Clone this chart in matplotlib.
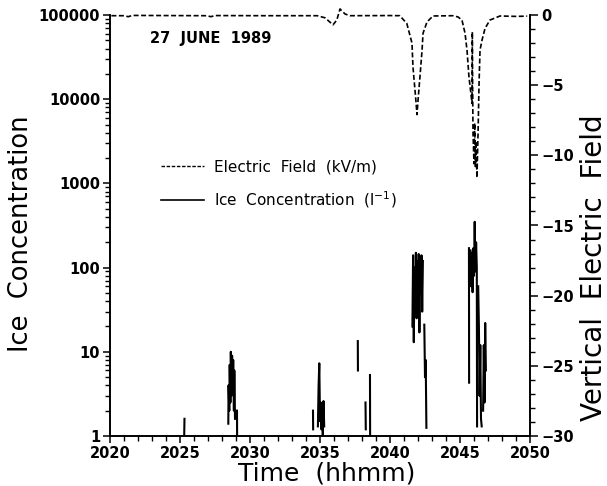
import numpy as np
import matplotlib.pyplot as plt
from matplotlib.lines import Line2D
from matplotlib.ticker import MultipleLocator, LogLocator, NullFormatter

plt.rcParams['font.family'] = 'DejaVu Sans'

nan = np.nan

# ice concentration (l^-1), separate bursts split by NaN
ice_time = [2025.30, 2025.32, nan,
            2028.45, 2028.47, 2028.52, 2028.55, 2028.60, 2028.63, 2028.68, 2028.72,
            2028.77, 2028.80, 2028.85, 2028.88, 2028.93, nan,
            2029.07, 2029.08, nan,
            2034.50, 2034.51, nan,
            2034.85, 2034.90, 2034.95, 2035.00, 2035.05, 2035.10, 2035.15, 2035.20,
            2035.25, 2035.30, nan,
            2037.70, 2037.71, nan,
            2038.25, 2038.27, nan,
            2038.57, 2038.58, nan,
            2041.60, 2041.65, 2041.70, 2041.75, 2041.80, 2041.85, 2041.90, 2041.95,
            2042.00, 2042.05, 2042.10, 2042.15, 2042.20, 2042.25, 2042.30, 2042.35, nan,
            2042.45, 2042.50, 2042.55, 2042.60, nan,
            2045.64, 2045.65, nan,
            2045.75, 2045.80, 2045.85, 2045.90, 2045.95, 2046.00, 2046.05, 2046.10,
            2046.15, 2046.20, 2046.22, nan,
            2046.30, 2046.35, 2046.40, 2046.45, 2046.50, 2046.55, nan,
            2046.65, 2046.70, 2046.75, 2046.80, 2046.85]
ice_conc = [1.0, 1.6, nan,
            1.4, 4.0, 2.0, 7.0, 2.5, 10.0, 3.0, 9.0,
            4.0, 8.0, 2.0, 6.0, 1.6, nan,
            2.0, 1.0, nan,
            2.0, 1.2, nan,
            1.3, 4.0, 7.3, 1.5, 2.5, 1.2, 2.3, 1.0,
            2.6, 1.3, nan,
            13.4, 6.0, nan,
            2.5, 1.2, nan,
            5.3, 1.0, nan,
            20, 140, 13, 100, 40, 150, 25, 120,
            60, 145, 17, 130, 50, 140, 30, 120, nan,
            21, 5, 8, 1.25, nan,
            170, 4.3, nan,
            160, 60, 150, 51, 170, 80, 350, 90,
            200, 100, 1.3, nan,
            60, 20, 3, 12, 1.6, 1.3, nan,
            2.0, 12, 2.5, 22, 6]

# vertical electric field (kV/m)
ef_time = [2020.1, 2021.0, 2021.3, 2021.6, 2024.0, 2026.9, 2027.2, 2027.5, 2031.0,
           2034.8, 2035.36, 2035.93, 2036.2, 2036.43, 2036.79, 2037.14, 2040.0,
           2040.7, 2041.2, 2041.57, 2041.64, 2041.79, 2041.93, 2042.0, 2042.14,
           2042.29, 2042.36, 2042.64, 2043.07, 2044.5, 2044.86, 2045.14, 2045.36,
           2045.5, 2045.64, 2045.86, 2045.88, 2045.9, 2045.93, 2046.0, 2046.05,
           2046.1, 2046.15, 2046.21, 2046.29, 2046.36, 2046.43, 2046.57, 2046.79,
           2047.14, 2047.86, 2049.0, 2049.8]
ef_value = [-0.05, -0.05, -0.12, -0.03, -0.04, -0.05, -0.12, -0.04, -0.05,
            -0.05, -0.2, -0.7, -0.36, 0.43, 0.07, -0.05, -0.04,
            -0.05, -0.6, -2.0, -3.7, -5.4, -7.1, -6.1, -4.4,
            -2.5, -1.3, -0.5, -0.07, -0.05, -0.14, -0.36, -1.3,
            -2.5, -4.4, -6.3, -1.2, -4.8, -8.4, -10.6, -7.7,
            -10.8, -9.0, -11.6, -8.4, -4.9, -2.5, -1.8, -0.95,
            -0.36, -0.07, -0.1, -0.08]

ice_ticks = [1, 10, 100, 1000, 10000, 100000]
ice_ticklabels = ['1', '10', '100', '1000', '10000', '100000']
ef_ticks = [0, -5, -10, -15, -20, -25, -30]
ef_ticklabels = ['0', '\u22125', '\u221210', '\u221215', '\u221220', '\u221225', '\u221230']

W, H = 607, 486
fig = plt.figure(figsize=(W / 100, H / 100), dpi=100)
ax = fig.add_axes([110 / W, 50 / H, 420 / W, 421 / H])

ax.plot(ice_time, ice_conc, color='k', lw=1.5)
ax.set_yscale('log')
ax.set_ylim(1, 1e5)
ax.set_xlim(2020, 2050)
ax.set_yticks(ice_ticks)
ax.set_yticklabels(ice_ticklabels)
ax.yaxis.set_minor_locator(LogLocator(base=10, subs=np.arange(2, 10)))
ax.yaxis.set_minor_formatter(NullFormatter())
ax.xaxis.set_major_locator(MultipleLocator(5))
ax.xaxis.set_minor_locator(MultipleLocator(1))

ax2 = ax.twinx()
ax2.plot(ef_time, ef_value, color='k', lw=1.2, dashes=(3, 1.5), clip_on=False)
ax2.set_ylim(-30, 0)
ax2.set_yticks(ef_ticks)
ax2.set_yticklabels(ef_ticklabels)
ax2.yaxis.set_minor_locator(MultipleLocator(1))

for a in (ax, ax2):
    a.spines['top'].set_visible(False)
    for s in ('left', 'right', 'bottom'):
        a.spines[s].set_linewidth(1.2)
    a.tick_params(which='major', direction='out', length=5, width=1.1,
                  labelsize=10.5, pad=2)
    a.tick_params(which='minor', direction='out', length=3.5, width=1.0)
    for lab in a.get_xticklabels() + a.get_yticklabels():
        lab.set_fontweight('bold')

ax2.tick_params(axis='y', which='major', length=6)

h_ef = Line2D([], [], color='k', lw=1.0, dashes=(2.5, 1.2))
h_ice = Line2D([], [], color='k', lw=1.2)
ax2.legend([h_ef, h_ice], ['Electric  Field  (kV/m)', 'Ice  Concentration  (l$^{-1}$)'],
           loc='upper left', bbox_to_anchor=(161 / W, 1 - 159 / H),
           bbox_transform=fig.transFigure, frameon=False, fontsize=11,
           handlelength=2.8, handletextpad=0.65, labelspacing=1.0,
           borderpad=0, borderaxespad=0)

fig.text(150 / W, 1 - 39 / H, '27  JUNE  1989', fontsize=10.5, fontweight='bold',
         ha='left', va='center')
fig.text(21 / W, 1 - 234 / H, 'Ice  Concentration', fontsize=18.5, rotation=90,
         ha='center', va='center')
fig.text(327 / W, 1 - 473 / H, 'Time  (hhmm)', fontsize=18, ha='center', va='center')
fig.text(594 / W, 1 - 268 / H, 'Vertical  Electric  Field', fontsize=20, rotation=90,
         ha='center', va='center')

fig.savefig('out.png', dpi=100)
